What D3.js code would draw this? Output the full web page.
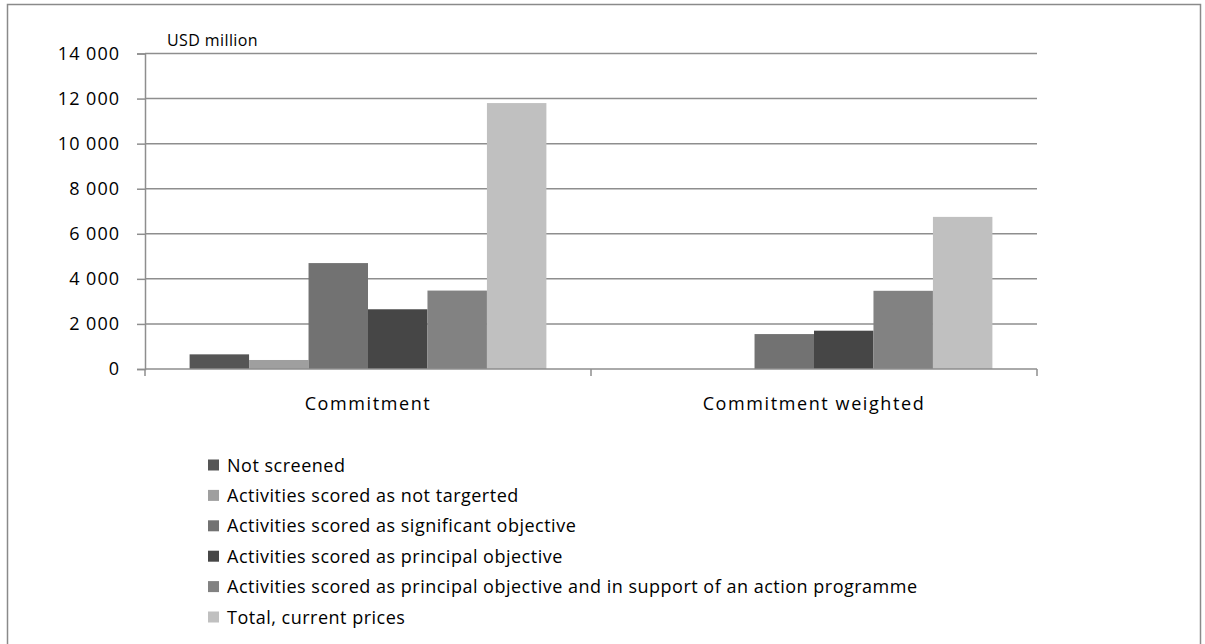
<!DOCTYPE html>
<html>
<head>
<meta charset="utf-8">
<script src="https://cdn.jsdelivr.net/npm/d3@7"></script>
<style>
  body { margin: 0; background: #fff; }
  svg text { font-family: "Open Sans", sans-serif; fill: #000; }
</style>
</head>
<body>
<svg id="chart" width="1205" height="644"></svg>
<script>
// ---- data ----
const categories = ["Commitment", "Commitment weighted"];
const seriesNames = [
  "Not screened",
  "Activities scored as not targerted",
  "Activities scored as significant objective",
  "Activities scored as principal objective",
  "Activities scored as principal objective and in support of an action programme",
  "Total, current prices"
];
const seriesColors = ["#555555", "#9f9f9f", "#727272", "#464646", "#828282", "#c0c0c0"];
const commitmentValues = [650, 400, 4700, 2650, 3480, 11800];
const weightedValues = [0, 0, 1550, 1700, 3470, 6750];
const yTicks = [0, 2000, 4000, 6000, 8000, 10000, 12000, 14000];
const unitLabel = "USD million";

const valuesByCategory = [commitmentValues, weightedValues];

// ---- layout ----
const svg = d3.select("#chart");
const plotLeft = 145, plotRight = 1037, plotTop = 53.5, plotBottom = 369;
const gridColor = "#8e8e8e";

// outer frame
svg.append("rect")
  .attr("x", 7.5).attr("y", 4.5).attr("width", 1193).attr("height", 650)
  .attr("fill", "none").attr("stroke", "#8a8a8a").attr("stroke-width", 1.5);

const y = d3.scaleLinear().domain([0, 14000]).range([plotBottom, plotTop]);
const x0 = d3.scaleBand().domain(categories).range([plotLeft, plotRight])
  .paddingInner(0.2).paddingOuter(0.1);
const x1 = d3.scaleBand().domain(seriesNames).range([0, x0.bandwidth()]).padding(0);

const fmt = d3.formatLocale({ decimal: ".", thousands: " ", grouping: [3], currency: ["", ""] }).format(",d");

// gridlines
svg.append("g").selectAll("line").data(yTicks.filter(d => d > 0)).join("line")
  .attr("x1", plotLeft).attr("x2", plotRight)
  .attr("y1", d => y(d)).attr("y2", d => y(d))
  .attr("stroke", gridColor).attr("stroke-width", 1.5);

// bars
const groups = svg.append("g").selectAll("g").data(categories).join("g")
  .attr("transform", d => `translate(${x0(d)},0)`);
groups.selectAll("rect")
  .data((c, i) => seriesNames.map((s, j) => ({ s, j, v: valuesByCategory[i][j] })))
  .join("rect")
  .attr("x", d => x1(d.s))
  .attr("width", x1.bandwidth())
  .attr("y", d => y(d.v))
  .attr("height", d => y(0) - y(d.v))
  .attr("fill", d => seriesColors[d.j]);

// y axis
const yAxis = d3.axisLeft(y).tickValues(yTicks).tickSize(8).tickPadding(17).tickFormat(fmt);
const yg = svg.append("g").attr("transform", `translate(${plotLeft},0)`).call(yAxis);
yg.select(".domain").attr("stroke", gridColor).attr("stroke-width", 1.5);
yg.selectAll(".tick line").attr("stroke", gridColor).attr("stroke-width", 1.5);
yg.selectAll(".tick text").attr("font-size", 18).attr("letter-spacing", "1px")
  .attr("font-family", "Open Sans").attr("fill", "#000");

// x axis baseline + ticks at band boundaries
svg.append("line").attr("x1", plotLeft).attr("x2", plotRight)
  .attr("y1", y(0)).attr("y2", y(0)).attr("stroke", gridColor).attr("stroke-width", 1.5);
const boundaries = [plotLeft].concat(categories.map(c => x0(c) - x0.step() * x0.paddingOuter() + x0.step()));
svg.append("g").selectAll("line").data(boundaries).join("line")
  .attr("x1", d => d).attr("x2", d => d)
  .attr("y1", y(0)).attr("y2", y(0) + 7)
  .attr("stroke", gridColor).attr("stroke-width", 1.5);

// category labels
svg.append("g").selectAll("text").data(categories).join("text")
  .attr("x", d => x0(d) + x0.bandwidth() / 2)
  .attr("y", 410)
  .attr("text-anchor", "middle")
  .attr("font-size", 18).attr("letter-spacing", "1.6px")
  .text(d => d);

// unit label
svg.append("text").attr("x", 167).attr("y", 46)
  .attr("font-size", 16).attr("letter-spacing", "0.4px").text(unitLabel);

// legend
const legend = svg.append("g").selectAll("g").data(seriesNames).join("g")
  .attr("transform", (d, i) => `translate(208, ${465 + i * 30.4})`);
legend.append("rect").attr("x", 0).attr("y", -5.5).attr("width", 11).attr("height", 11)
  .attr("fill", (d, i) => seriesColors[i]);
legend.append("text").attr("x", 19).attr("y", 6.5)
  .attr("font-size", 18).attr("letter-spacing", "0.5px").text(d => d);
</script>
</body>
</html>
